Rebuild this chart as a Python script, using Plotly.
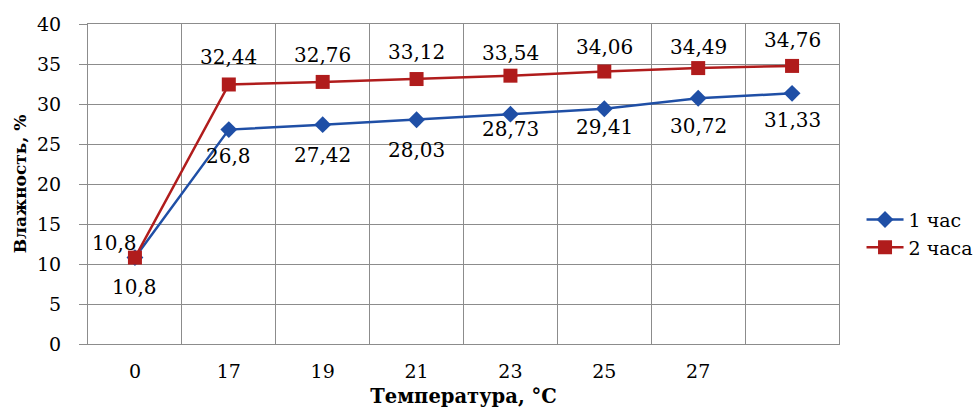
import plotly.graph_objects as go

temps = ["0", "17", "19", "21", "23", "25", "27", " "]
hour1 = [10.8, 26.8, 27.42, 28.03, 28.73, 29.41, 30.72, 31.33]
hour2 = [10.8, 32.44, 32.76, 33.12, 33.54, 34.06, 34.49, 34.76]
name1 = "1 час"
name2 = "2 часа"

# label placement (style, pixels)
shift1_y = [-29, -26, -30, -30, -15, -18, -28, -27]
shift2_y = [15, 27, 27, 27, 23, 25, 21, 26]
shift2_x = [-20, 0, 0, 0, 0, 0, 0, 0]

BLUE = "#1F4FA6"
RED = "#B01C1C"
GRID = "#8C8C8C"
FONT = "DejaVu Serif, Liberation Serif, serif"

def fmt(v):
    return ("%g" % v).replace(".", ",")

fig = go.Figure()
fig.add_trace(go.Scatter(x=temps, y=hour1, name=name1, mode="lines+markers",
                         line=dict(color=BLUE, width=2.5),
                         marker=dict(symbol="diamond", size=13, color=BLUE)))
fig.add_trace(go.Scatter(x=temps, y=hour2, name=name2, mode="lines+markers",
                         line=dict(color=RED, width=2.5),
                         marker=dict(symbol="square", size=14, color=RED)))

anns = []
for i, v in enumerate(hour1):
    anns.append(dict(x=i, y=v, xref="x", yref="y", text=fmt(v), showarrow=False,
                     yshift=shift1_y[i], font=dict(family=FONT, size=20, color="black")))
for i, v in enumerate(hour2):
    anns.append(dict(x=i, y=v, xref="x", yref="y", text=fmt(v), showarrow=False,
                     yshift=shift2_y[i], xshift=shift2_x[i],
                     font=dict(family=FONT, size=20, color="black")))

fig.update_layout(
    width=973, height=415,
    margin=dict(l=88, r=134, t=24, b=71, autoexpand=False),
    paper_bgcolor="white", plot_bgcolor="white",
    font=dict(family=FONT, size=19, color="black"),
    showlegend=True,
    legend=dict(x=1.03, y=0.345, xanchor="left", yanchor="middle",
                font=dict(family=FONT, size=19, color="black"),
                itemwidth=37,
                bgcolor="rgba(0,0,0,0)", tracegroupgap=0),
    annotations=anns,
    xaxis=dict(type="category", categoryorder="array", categoryarray=temps,
               range=[-0.5, len(temps) - 0.5], autorange=False, automargin=False,
               tickson="boundaries", showgrid=True, gridcolor=GRID, gridwidth=1,
               showline=True, linecolor=GRID, linewidth=1, mirror=True,
               ticks="", ticklabelstandoff=10, tickangle=0,
               tickfont=dict(family=FONT, size=19, color="black"),
               title=dict(text="<b>Температура, °C</b>", standoff=8,
                          font=dict(family=FONT, size=19.5, color="black")),
               zeroline=False),
    yaxis=dict(range=[0, 40], dtick=5, tick0=0, showgrid=True, gridcolor=GRID, gridwidth=1,
               automargin=False,
               showline=True, linecolor=GRID, linewidth=1, mirror=True,
               ticks="outside", ticklen=8, tickcolor=GRID, ticklabelstandoff=14,
               tickfont=dict(family=FONT, size=19, color="black"),
               title=dict(text="<b>Влажность, %</b>", standoff=6,
                          font=dict(family=FONT, size=17, color="black")),
               zeroline=False),
)

fig.write_html("out.html")
